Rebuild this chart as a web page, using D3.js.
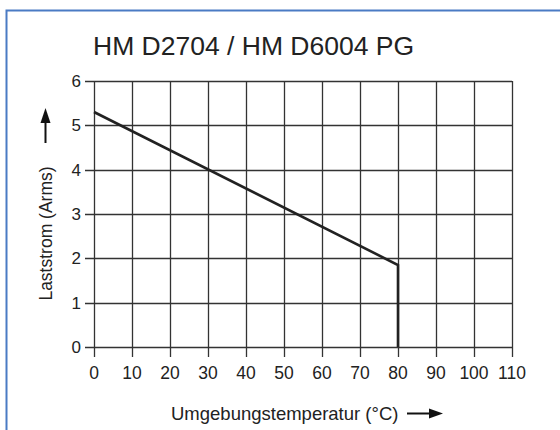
<!DOCTYPE html>
<html>
<head>
<meta charset="utf-8">
<script src="https://cdn.jsdelivr.net/npm/d3@7"></script>
<style>
  body { margin: 0; background: #fff; }
  text { font-family: "Liberation Sans", Arial, sans-serif; fill: #222; }
</style>
</head>
<body>
<svg id="chart" width="560" height="430"></svg>
<script>
// derating curve: ambient temperature (°C) -> load current (Arms)
var temps = [0, 80, 80];
var currents = [5.3, 1.85, 0];
var xTicks = [0, 10, 20, 30, 40, 50, 60, 70, 80, 90, 100, 110];
var yTicks = [0, 1, 2, 3, 4, 5, 6];
var title = "HM D2704 / HM D6004 PG";
var xLabel = "Umgebungstemperatur (°C)";
var yLabel = "Laststrom (Arms)";

var svg = d3.select("#chart");

// blue frame, open at right and bottom
svg.append("rect")
    .attr("x", 6.5).attr("y", 10.5)
    .attr("width", 700).attr("height", 600)
    .attr("fill", "none")
    .attr("stroke", "#4a7bc4")
    .attr("stroke-width", 2);

var x = d3.scaleLinear().domain([0, 110]).range([94, 512]);
var y = d3.scaleLinear().domain([0, 6]).range([347, 81]);

// grid - horizontal lines with little tick stubs on the left
svg.selectAll(".hgrid")
    .data(yTicks)
    .enter()
    .append("line")
    .attr("class", "hgrid")
    .attr("x1", x(0) - 9)
    .attr("x2", x(110))
    .attr("y1", d => Math.round(y(d)) + 0.5)
    .attr("y2", d => Math.round(y(d)) + 0.5)
    .attr("stroke", "#333")
    .attr("stroke-width", 1.3);

// vertical lines with stubs below
svg.selectAll(".vgrid")
    .data(xTicks)
    .enter()
    .append("line")
    .attr("class", "vgrid")
    .attr("x1", d => Math.round(x(d)) + 0.5)
    .attr("x2", d => Math.round(x(d)) + 0.5)
    .attr("y1", y(6))
    .attr("y2", y(0) + 10)
    .attr("stroke", "#333")
    .attr("stroke-width", 1.3);

svg.selectAll(".ylab")
    .data(yTicks)
    .enter()
    .append("text")
    .attr("class", "ylab")
    .attr("text-anchor", "end")
    .style("font-size", "17px")
    .attr("x", 81)
    .attr("y", d => y(d) + 6)
    .text(d => d);

svg.selectAll(".xlab")
    .data(xTicks)
    .enter()
    .append("text")
    .attr("class", "xlab")
    .attr("text-anchor", "middle")
    .style("font-size", "17.5px")
    .attr("x", d => x(d))
    .attr("y", 379)
    .text(d => d);

// the curve
var line = d3.line()
    .x(d => x(d[0]))
    .y(d => y(d[1]));

svg.append("path")
    .datum(temps.map((t, i) => [t, currents[i]]))
    .attr("fill", "none")
    .attr("stroke", "#222")
    .attr("stroke-width", 2.6)
    .attr("stroke-linejoin", "miter")
    .attr("d", line);

// title
svg.append("text")
    .attr("x", 93)
    .attr("y", 55)
    .style("font-size", "26.5px")
    .text(title);

// x axis label + arrow
svg.append("text")
    .attr("x", 171)
    .attr("y", 420)
    .style("font-size", "18.5px")
    .text(xLabel);

svg.append("line")
    .attr("x1", 407).attr("x2", 432)
    .attr("y1", 413.5).attr("y2", 413.5)
    .attr("stroke", "#111")
    .attr("stroke-width", 2);
svg.append("path")
    .attr("d", "M429,408.5 L443,413.5 L429,418.5 Z")
    .attr("fill", "#111");

// y axis label + arrow
svg.append("text")
    .attr("transform", "translate(52,233.5) rotate(-90)")
    .attr("text-anchor", "middle")
    .style("font-size", "17.5px")
    .text(yLabel);

svg.append("line")
    .attr("x1", 45.5).attr("x2", 45.5)
    .attr("y1", 143).attr("y2", 120)
    .attr("stroke", "#111")
    .attr("stroke-width", 2);
svg.append("path")
    .attr("d", "M40.5,123 L45.5,108 L50.5,123 Z")
    .attr("fill", "#111");
</script>
</body>
</html>
